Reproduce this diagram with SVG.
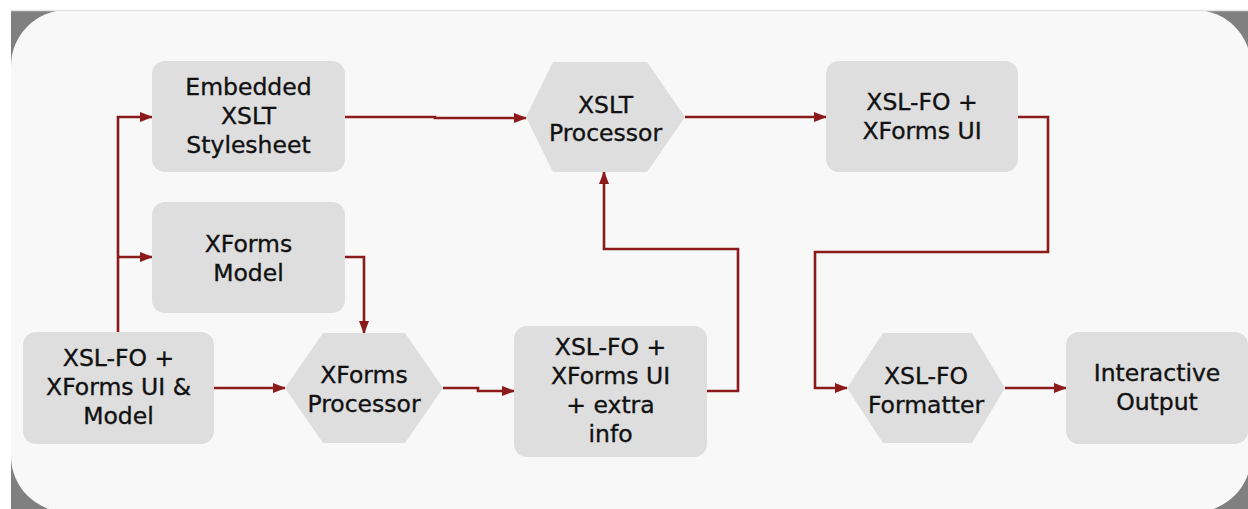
<svg xmlns="http://www.w3.org/2000/svg" width="1248" height="509" viewBox="0 0 1248 509">
  <defs>
    <marker id="arrow" markerUnits="userSpaceOnUse" markerWidth="13" markerHeight="10" refX="12" refY="5" orient="auto">
      <path d="M0,0 L13,5 L0,10 Z" fill="#8b1a1a"/>
    </marker>
    <style>
      .box { fill: #dedede; }
      .label { font-family: "DejaVu Sans", Verdana, sans-serif; font-size: 23.5px; fill: #111111; stroke: #111111; stroke-width: 0.35; text-anchor: middle; }
      .wire { fill: none; stroke: #8b1a1a; stroke-width: 2.6; marker-end: url(#arrow); }
    </style>
  </defs>

  <!-- page backdrop and rounded panel -->
  <rect x="0" y="0" width="1248" height="509" fill="#ffffff"/>
  <rect x="11" y="10" width="1237" height="499" fill="#808080"/>
  <rect x="11" y="10" width="1240" height="502" rx="56" ry="56" fill="#f8f8f8"/>
  <line x1="11" y1="10.5" x2="1248" y2="10.5" stroke="#e4e4e4" stroke-width="1.5"/>

  <!-- connectors -->
  <g id="connectors">
    <polyline class="wire" points="118,332 118,117 152,117"/>
    <polyline class="wire" points="118,257 152,257"/>
    <polyline class="wire" points="345,117 435,117 435,118 526,118"/>
    <polyline class="wire" points="345,257 364,257 364,333"/>
    <polyline class="wire" points="214,388 285,388"/>
    <polyline class="wire" points="443,388 478,388 478,391 514,391"/>
    <polyline class="wire" points="707,391 738,391 738,249 604,249 604,172"/>
    <polyline class="wire" points="685,117 826,117"/>
    <polyline class="wire" points="1018,117 1048,117 1048,252 815,252 815,388 847,388"/>
    <polyline class="wire" points="1005,388 1066,388"/>
  </g>

  <!-- nodes -->
  <g id="embedded-xslt">
    <rect class="box" x="152" y="61" width="193" height="111" rx="13"/>
    <text class="label" x="248.5" y="95">Embedded</text>
    <text class="label" x="248.5" y="124">XSLT</text>
    <text class="label" x="248.5" y="153">Stylesheet</text>
  </g>

  <g id="xforms-model">
    <rect class="box" x="152" y="202" width="193" height="111" rx="13"/>
    <text class="label" x="248.5" y="252">XForms</text>
    <text class="label" x="248.5" y="281">Model</text>
  </g>

  <g id="source-doc">
    <rect class="box" x="23" y="332" width="191" height="112" rx="13"/>
    <text class="label" x="118.5" y="366">XSL-FO +</text>
    <text class="label" x="118.5" y="395">XForms UI &amp;</text>
    <text class="label" x="118.5" y="424">Model</text>
  </g>

  <g id="xforms-processor">
    <polygon class="box" points="285,388 323,333 405,333 443,388 405,443 323,443"/>
    <text class="label" x="364" y="383">XForms</text>
    <text class="label" x="364" y="412">Processor</text>
  </g>

  <g id="augmented-doc">
    <rect class="box" x="514" y="326" width="193" height="131" rx="13"/>
    <text class="label" x="610.5" y="355">XSL-FO +</text>
    <text class="label" x="610.5" y="384">XForms UI</text>
    <text class="label" x="610.5" y="413">+ extra</text>
    <text class="label" x="610.5" y="442">info</text>
  </g>

  <g id="xslt-processor">
    <polygon class="box" points="526,117 553,62 647,62 685,117 647,172 553,172"/>
    <text class="label" x="605.5" y="113">XSLT</text>
    <text class="label" x="605.5" y="141">Processor</text>
  </g>

  <g id="fo-xforms-ui">
    <rect class="box" x="826" y="61" width="192" height="111" rx="13"/>
    <text class="label" x="922" y="110">XSL-FO +</text>
    <text class="label" x="922" y="139">XForms UI</text>
  </g>

  <g id="fo-formatter">
    <polygon class="box" points="847,388 883,333 972,333 1005,388 972,443 883,443"/>
    <text class="label" x="926" y="384">XSL-FO</text>
    <text class="label" x="926" y="413">Formatter</text>
  </g>

  <g id="interactive-output">
    <rect class="box" x="1066" y="332" width="182" height="112" rx="13"/>
    <text class="label" x="1157" y="381">Interactive</text>
    <text class="label" x="1157" y="410">Output</text>
  </g>
</svg>
